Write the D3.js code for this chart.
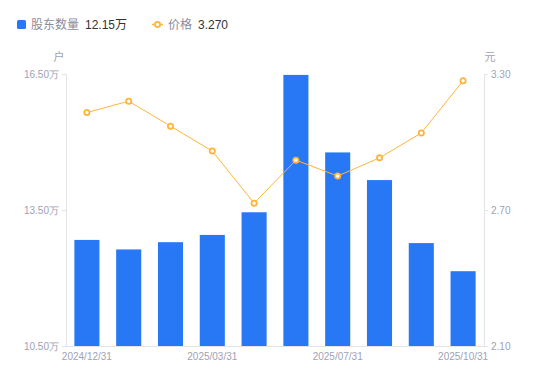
<!DOCTYPE html>
<html>
<head>
<meta charset="utf-8">
<script src="https://cdn.jsdelivr.net/npm/d3@7"></script>
<style>
  html, body { margin: 0; padding: 0; background: #fff; }
  svg { display: block; font-family: "Liberation Sans", Arial, "Noto Sans CJK SC", sans-serif; }
</style>
</head>
<body>
<svg id="chart" width="550" height="381"></svg>
<script>
const dates = ["2024/12/31","2025/01/20","2025/02/28","2025/03/31","2025/04/30","2025/06/30","2025/07/31","2025/08/31","2025/09/30","2025/10/31"];
const holders = [12.84, 12.63, 12.79, 12.95, 13.45, 16.48, 14.77, 14.16, 12.77, 12.15];
const prices = [3.13, 3.18, 3.07, 2.96, 2.73, 2.92, 2.85, 2.93, 3.04, 3.27];
const leftTicks = [10.5, 13.5, 16.5];
const rightTicks = [2.1, 2.7, 3.3];
const shownDates = ["2024/12/31","2025/03/31","2025/07/31","2025/10/31"];

const svg = d3.select("#chart");
const m = { left: 66, right: 484, top: 74, bottom: 346 };
const blue = "#2878f5", orange = "#ffb43c", axisCol = "#e3e3e8", textCol = "#a0a2b4";

const x = d3.scaleBand().domain(dates).range([m.left, m.right]).paddingInner(0.4).paddingOuter(0.2);
const yL = d3.scaleLinear().domain([10.5, 16.5]).range([m.bottom, m.top]);
const yR = d3.scaleLinear().domain([2.1, 3.3]).range([m.bottom, m.top]);

// bars
svg.append("g").selectAll("rect").data(holders).join("rect")
  .attr("x", (d, i) => x(dates[i]))
  .attr("width", x.bandwidth())
  .attr("y", d => yL(d))
  .attr("height", d => m.bottom - yL(d))
  .attr("fill", blue);

// left axis
const gl = svg.append("g").attr("transform", `translate(${m.left},0)`)
  .call(d3.axisLeft(yL).tickValues(leftTicks).tickSize(4).tickPadding(3).tickFormat(d => d3.format(".2f")(d) + "万"));
gl.select(".domain").attr("stroke", axisCol);
gl.selectAll(".tick line").attr("stroke", axisCol);
gl.selectAll("text").attr("fill", textCol).attr("font-size", 10);

// right axis
const gr = svg.append("g").attr("transform", `translate(${m.right},0)`)
  .call(d3.axisRight(yR).tickValues(rightTicks).tickSize(4).tickPadding(3).tickFormat(d3.format(".2f")));
gr.select(".domain").attr("stroke", axisCol);
gr.selectAll(".tick line").attr("stroke", axisCol);
gr.selectAll("text").attr("fill", textCol).attr("font-size", 10);

// bottom axis
const gb = svg.append("g").attr("transform", `translate(0,${m.bottom})`)
  .call(d3.axisBottom(x).tickValues(shownDates).tickSize(0).tickPadding(7));
gb.select(".domain").attr("stroke", axisCol).attr("d", `M${m.left - 4},0.5H${m.right + 4}`);
gb.selectAll("text").attr("fill", textCol).attr("font-size", 10);

// unit labels
svg.append("text").attr("x", 59).attr("y", 61).attr("text-anchor", "middle")
  .attr("fill", textCol).attr("font-size", 11).text("户");
svg.append("text").attr("x", 490).attr("y", 61).attr("text-anchor", "middle")
  .attr("fill", textCol).attr("font-size", 11).text("元");

// price line
const cx = (d, i) => x(dates[i]) + x.bandwidth() / 2;
svg.append("path").datum(prices)
  .attr("fill", "none").attr("stroke", orange).attr("stroke-width", 1)
  .attr("d", d3.line().x(cx).y(d => yR(d)));
svg.append("g").selectAll("circle").data(prices).join("circle")
  .attr("cx", cx).attr("cy", d => yR(d)).attr("r", 2.6)
  .attr("fill", "#fff").attr("stroke", orange).attr("stroke-width", 1.8);

// legend
const lg = svg.append("g");
lg.append("rect").attr("x", 17).attr("y", 20).attr("width", 9).attr("height", 9).attr("rx", 1.5).attr("fill", blue);
lg.append("text").attr("x", 31).attr("y", 29).attr("font-size", 12).attr("fill", "#8b8d9c").text("股东数量");
lg.append("text").attr("x", 85).attr("y", 29).attr("font-size", 12).attr("fill", "#333").text(d3.format(".2f")(holders[holders.length - 1]) + "万");
lg.append("line").attr("x1", 152).attr("x2", 163).attr("y1", 24.5).attr("y2", 24.5).attr("stroke", orange).attr("stroke-width", 1.5);
lg.append("circle").attr("cx", 157.5).attr("cy", 24.5).attr("r", 2.6).attr("fill", "#fff").attr("stroke", orange).attr("stroke-width", 1.8);
lg.append("text").attr("x", 168).attr("y", 29).attr("font-size", 12).attr("fill", "#8b8d9c").text("价格");
lg.append("text").attr("x", 198).attr("y", 29).attr("font-size", 12).attr("fill", "#333").text(d3.format(".3f")(prices[prices.length - 1]));
</script>
</body>
</html>
